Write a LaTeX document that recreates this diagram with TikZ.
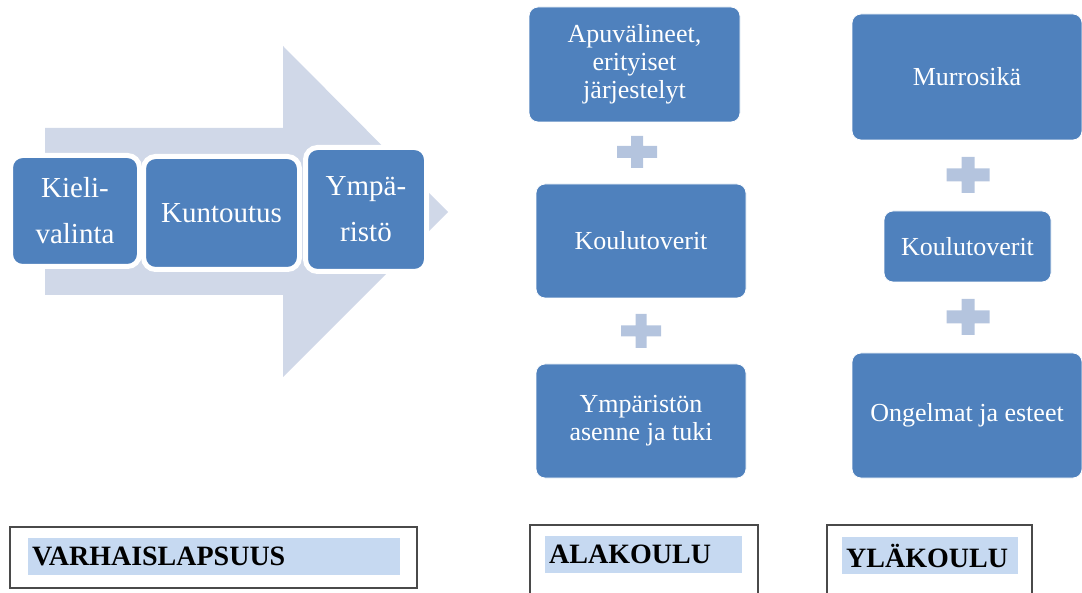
\documentclass[tikz,border=0pt]{standalone}
\usepackage{fontspec}
\setmainfont{Liberation Serif}
\usetikzlibrary{positioning, calc}
\definecolor{boxblue}{HTML}{4F81BD}
\definecolor{arrowgray}{HTML}{D0D8E8}
\definecolor{plusblue}{HTML}{B4C4DE}
\definecolor{marklight}{HTML}{C6D9F1}
\definecolor{framegray}{HTML}{4A4A4A}

\begin{document}
\begin{tikzpicture}[x=1pt, y=-1pt,
    stagebox/.style={rectangle, rounded corners=12pt, fill=boxblue, draw=white, line width=5pt,
      text=white, align=center, inner sep=0pt, font=\fontsize{29}{46}\selectfont},
    factorbox/.style={rectangle, rounded corners=9pt, fill=boxblue, draw=white, line width=0.8pt,
      text=white, align=center, inner sep=0pt, font=\fontsize{26}{28}\selectfont},
    periodframe/.style={draw=framegray, line width=1.6pt},
    periodmark/.style={fill=marklight, anchor=west, inner xsep=4pt, inner ysep=0pt,
      minimum height=37pt, align=left, font=\fontsize{28}{30}\bfseries\selectfont}]
  \useasboundingbox (0,0) rectangle (1082,593);

  % big arrow behind the first stages
  \fill[arrowgray] (45,128) -- (283,128) -- (283,46) -- (448,212) -- (283,377) -- (283,295) -- (45,295) -- cycle;

  \node[stagebox, minimum width=129pt, minimum height=111pt] (kieli) at (75,211) {Kieli-\\valinta};
  \node[stagebox, minimum width=156pt, minimum height=113pt] (kuntoutus) at (221.5,213) {Kuntoutus};
  \node[stagebox, minimum width=121pt, minimum height=124pt] (ympa) at (366,209.5) {Ympä-\\ristö};

  % alakoulu column
  \node[factorbox, minimum width=211pt, minimum height=115pt] (apuv) at (634.5,64.5) {Apuvälineet,\\erityiset\\järjestelyt};
  \node[factorbox, minimum width=210pt, minimum height=114pt] (koulua) at (641,241) {Koulutoverit};
  \node[factorbox, minimum width=210pt, minimum height=114pt] (asenne) at (641,421) {Ympäristön\\asenne ja tuki};

  % ylakoulu column
  \node[factorbox, minimum width=230pt, minimum height=126pt] (murros) at (967,77) {Murrosikä};
  \node[factorbox, minimum width=167pt, minimum height=71pt] (kouluy) at (967.5,246.5) {Koulutoverit};
  \node[factorbox, minimum width=230pt, minimum height=125pt] (ongelmat) at (967,415.5) {Ongelmat ja esteet};

  % plus signs
  \foreach \cx/\cy/\w/\h/\t in {637/152/40/32/12, 641/331/40/34/11, 968/175/43/36/13, 968/317/43/36/13}
    \fill[plusblue] (\cx-\w/2,\cy-\t/2) rectangle (\cx+\w/2,\cy+\t/2)
                    (\cx-\t/2,\cy-\h/2) rectangle (\cx+\t/2,\cy+\h/2);

  % period labels
  \draw[periodframe] (10,527) rectangle (417,588);
  \node[periodmark, text width=364pt] (varhais) at (28,556.5) {VARHAISLAPSUUS};
  \draw[periodframe] (530,593) -- (530,525) -- (758,525) -- (758,593);
  \node[periodmark, text width=189pt] (alakoulu) at (545,554.5) {ALAKOULU};
  \draw[periodframe] (827,593) -- (827,525) -- (1032,525) -- (1032,593);
  \node[periodmark, text width=168pt] (ylakoulu) at (842,555.5) {YLÄKOULU};
\end{tikzpicture}
\end{document}
